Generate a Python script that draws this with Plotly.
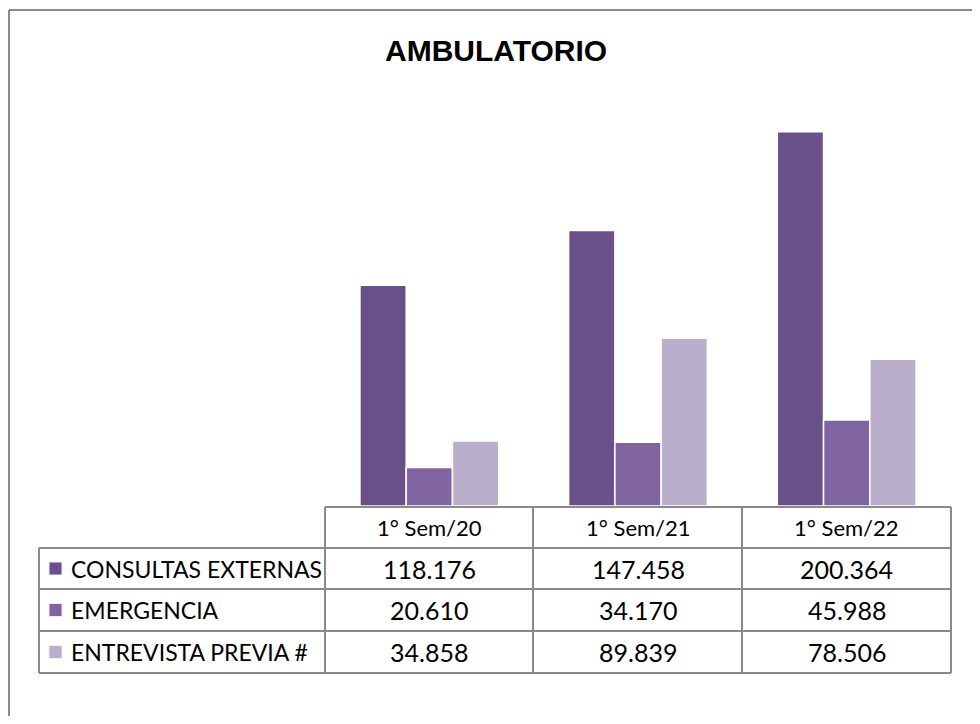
import plotly.graph_objects as go

categories = ["1° Sem/20", "1° Sem/21", "1° Sem/22"]
series_names = ["CONSULTAS EXTERNAS", "EMERGENCIA", "ENTREVISTA PREVIA #"]
consultas = [118176, 147458, 200364]
emergencia = [20610, 34170, 45988]
entrevista = [34858, 89839, 78506]
values = [consultas, emergencia, entrevista]

_COLORS = ["#6A5088", "#8064A2", "#B9AFCB"]

# the page body adds an 8px margin on every side, so the figure is shrunk to
# fit the 980x724 window without scrollbars and window positions shift by OFF
OFF = 8
W, H = 980 - 2 * OFF, 724 - 2 * OFF
L = 325 - OFF
R = W - (951 - OFF)
T = 95 - OFF
B = H - (506 - OFF)
PW, PH = W - L - R, H - T - B


def px(x):
    return (x - OFF - L) / PW


def py(y):
    return (H - B - (y - OFF)) / PH


def fmt(v):
    return f"{v:,}".replace(",", ".")


fig = go.Figure()
for name, vals, color in zip(series_names, values, _COLORS):
    fig.add_trace(go.Bar(
        x=categories,
        y=vals,
        name=name,
        marker=dict(color=color, line=dict(color="white", width=1.5)),
    ))

line = dict(color="#8a8a8a", width=2)
shapes = []
col_x = [325, 533, 742, 951]
row_y = [507, 548, 589, 631, 673]
shapes.append(dict(type="line", xref="paper", yref="paper",
                   x0=px(325), x1=px(951), y0=py(507), y1=py(507), line=line))
for yy in row_y[1:]:
    shapes.append(dict(type="line", xref="paper", yref="paper",
                       x0=px(39), x1=px(951), y0=py(yy), y1=py(yy), line=line))
for xx in col_x:
    shapes.append(dict(type="line", xref="paper", yref="paper",
                       x0=px(xx), x1=px(xx), y0=py(507), y1=py(673), line=line))
shapes.append(dict(type="line", xref="paper", yref="paper",
                   x0=px(39), x1=px(39), y0=py(548), y1=py(673), line=line))
# outer frame (left edge as far left as the page allows)
shapes.append(dict(type="line", xref="paper", yref="paper",
                   x0=px(9), x1=px(1000), y0=py(10), y1=py(10), line=line))
shapes.append(dict(type="line", xref="paper", yref="paper",
                   x0=px(9), x1=px(9), y0=py(10), y1=py(760), line=line))

annotations = []
fam = "Lato, sans-serif"
for cat in categories:
    annotations.append(dict(x=cat, xref="x", y=py(527.5), yref="paper",
                            text=cat, showarrow=False,
                            font=dict(family=fam, size=22, color="black"),
                            xanchor="center", yanchor="middle"))
for r, (name, vals, color) in enumerate(zip(series_names, values, _COLORS)):
    yc_px = (row_y[r + 1] + row_y[r + 2]) / 2
    yc = py(yc_px)
    # legend key
    shapes.append(dict(type="rect", xref="paper", yref="paper",
                       x0=px(49), x1=px(62), y0=py(yc_px - 6.5), y1=py(yc_px + 6.5),
                       fillcolor=color, line=dict(color="#eeeaf3", width=1)))
    annotations.append(dict(x=px(69), xref="paper", y=yc, yref="paper",
                            text=name, showarrow=False,
                            font=dict(family=fam, size=23, color="black"),
                            xanchor="left", yanchor="middle"))
    for cat, v in zip(categories, vals):
        annotations.append(dict(x=cat, xref="x", y=yc, yref="paper",
                                text=fmt(v), showarrow=False,
                                font=dict(family=fam, size=25, color="black"),
                                xanchor="center", yanchor="middle"))

annotations.append(dict(x=px(496), xref="paper", y=py(51), yref="paper",
                        text="<b>AMBULATORIO</b>", showarrow=False,
                        font=dict(family="Liberation Sans, Arial", size=30, color="black"),
                        xanchor="center", yanchor="middle"))

fig.update_layout(
    width=W,
    height=H,
    margin=dict(l=L, r=R, t=T, b=B),
    paper_bgcolor="white",
    plot_bgcolor="white",
    barmode="group",
    bargap=0.335,
    bargroupgap=0,
    showlegend=False,
    xaxis=dict(range=[-0.5, 2.5], showticklabels=False, showgrid=False,
               zeroline=False, showline=False, fixedrange=True),
    yaxis=dict(range=[0, 220000], showticklabels=False, showgrid=False,
               zeroline=False, showline=False, fixedrange=True),
    shapes=shapes,
    annotations=annotations,
)

fig.write_html("out.html")
